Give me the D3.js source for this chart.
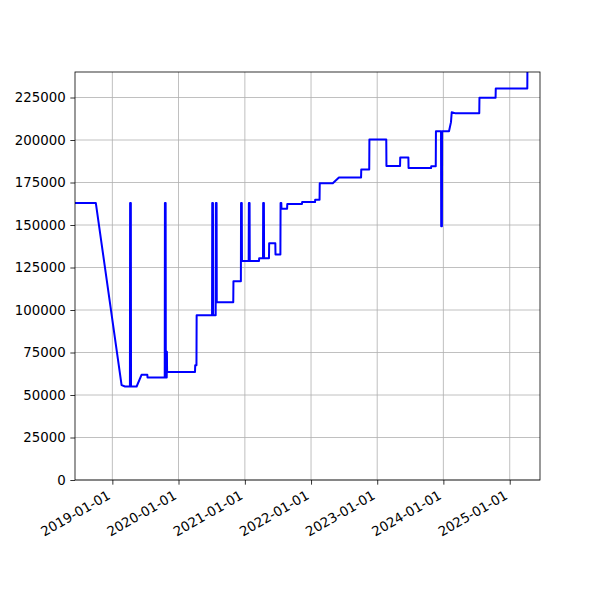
<!DOCTYPE html>
<html>
<head>
<meta charset="utf-8">
<script src="https://cdn.jsdelivr.net/npm/d3@7"></script>
<style>
  html, body { margin: 0; padding: 0; background: #ffffff; }
  svg { display: block; }
  text { font-family: "DejaVu Sans", sans-serif; }
</style>
</head>
<body>
<svg id="chart" width="600" height="600"></svg>
<script>
// ---- data ----
const dates = [
  "2018-06-09","2018-10-02","2019-02-21","2019-03-12","2019-04-08","2019-04-09","2019-04-13","2019-04-14",
  "2019-05-15","2019-06-11","2019-07-13","2019-07-14","2019-10-17","2019-10-18","2019-10-22","2019-10-23",
  "2019-10-28","2019-10-29","2019-10-30","2020-04-01","2020-04-02","2020-04-09","2020-04-10",
  "2020-07-04","2020-07-05","2020-07-09","2020-07-10","2020-07-24","2020-07-25","2020-07-29","2020-07-30",
  "2020-10-29","2020-10-30","2020-12-10","2020-12-11","2020-12-15","2020-12-16",
  "2021-01-22","2021-01-23","2021-01-27","2021-01-28",
  "2021-03-20","2021-03-21","2021-04-11","2021-04-12","2021-04-16","2021-04-17","2021-05-14","2021-05-15",
  "2021-06-18","2021-06-19","2021-07-16","2021-07-17","2021-07-21","2021-07-22","2021-08-22","2021-08-23",
  "2021-11-12","2021-11-13","2022-01-23","2022-01-24","2022-02-17","2022-02-18","2022-05-01",
  "2022-06-04","2022-10-04","2022-10-05","2022-11-18","2022-11-19","2023-02-20","2023-02-21",
  "2023-05-07","2023-05-08","2023-06-22","2023-06-23","2023-10-25","2023-10-26","2023-11-20",
  "2023-11-21","2023-12-19","2023-12-20","2023-12-24","2023-12-25","2024-02-01","2024-02-12","2024-02-16",
  "2024-03-05","2024-07-17","2024-07-18","2024-10-15","2024-10-16","2025-04-08","2025-04-09"
];
const values = [
  162900,162900,55800,55000,55000,162900,162900,55000,
  55000,61900,61900,60300,60300,162900,162900,60300,
  60300,75400,63600,63600,67500,67500,96900,
  96900,162900,162900,96900,96900,162900,162900,104500,
  104500,116900,116900,162900,162900,128800,
  128800,162900,162900,128800,
  128800,130500,130500,162900,162900,130500,130500,139200,
  139200,132700,132700,162900,162900,159600,159600,162400,
  162400,163500,163500,164900,164900,174600,174600,
  178000,178000,182700,182700,200300,200300,184700,
  184700,189700,189700,183500,183500,184500,184500,
  205200,205200,149200,149200,205200,205200,210500,216300,
  215800,215800,224800,224800,230300,230300,250000
];
const xDomain = ["2018-06-09", "2025-06-17"];
const yDomain = [0, 240000];
const yTicks = [0, 25000, 50000, 75000, 100000, 125000, 150000, 175000, 200000, 225000];
const xTickLabels = ["2019-01-01","2020-01-01","2021-01-01","2022-01-01","2023-01-01","2024-01-01","2025-01-01"];

// ---- layout ----
const parse = d3.utcParse("%Y-%m-%d");
const L = 75, R = 540, T = 72, B = 480;
const svg = d3.select("#chart");
const x = d3.scaleUtc().domain(xDomain.map(parse)).range([L, R]);
const y = d3.scaleLinear().domain(yDomain).range([B, T]);
const data = dates.map((d, i) => ({ date: parse(d), value: values[i] }));
const xTicks = xTickLabels.map(parse);

svg.append("rect").attr("width", 600).attr("height", 600).attr("fill", "#fff");

// grid
const grid = svg.append("g");
grid.selectAll("line.gx").data(xTicks).join("line")
  .attr("x1", d => x(d)).attr("x2", d => x(d)).attr("y1", T).attr("y2", B)
  .attr("stroke", "#b0b0b0").attr("stroke-width", 0.8);
grid.selectAll("line.gy").data(yTicks).join("line")
  .attr("x1", L).attr("x2", R).attr("y1", d => y(d)).attr("y2", d => y(d))
  .attr("stroke", "#b0b0b0").attr("stroke-width", 0.8);

// clip & line
svg.append("clipPath").attr("id", "clip").append("rect")
  .attr("x", L).attr("y", T).attr("width", R - L).attr("height", B - T);
const line = d3.line().x(d => x(d.date)).y(d => y(d.value));
svg.append("path").datum(data)
  .attr("clip-path", "url(#clip)")
  .attr("d", line)
  .attr("fill", "none").attr("stroke", "#0000ff").attr("stroke-width", 2)
  .attr("stroke-linejoin", "round").attr("stroke-linecap", "butt");

// axes
const fmt = d3.utcFormat("%Y-%m-%d");
const xAxis = d3.axisBottom(x).tickValues(xTicks).tickFormat(fmt).tickSize(4.67).tickPadding(4.67);
const gx = svg.append("g").attr("transform", `translate(0,${B})`).call(xAxis);
gx.select(".domain").remove();
gx.selectAll(".tick line").attr("stroke", "#000").attr("stroke-width", 0.8);
gx.selectAll(".tick text")
  .attr("font-size", 13.33).attr("fill", "#000")
  .attr("text-anchor", "end")
  .attr("y", 0).attr("dy", 0)
  .attr("transform", "translate(-1.5,18.1) rotate(-30)");

const yAxis = d3.axisLeft(y).tickValues(yTicks).tickFormat(d3.format("d")).tickSize(4.67).tickPadding(4.67);
const gy = svg.append("g").attr("transform", `translate(${L},0)`).call(yAxis);
gy.select(".domain").remove();
gy.selectAll(".tick line").attr("stroke", "#000").attr("stroke-width", 0.8);
gy.selectAll(".tick text").attr("font-size", 13.33).attr("fill", "#000");

// spines
svg.append("rect").attr("x", L).attr("y", T).attr("width", R - L).attr("height", B - T)
  .attr("fill", "none").attr("stroke", "#000").attr("stroke-width", 0.8);
</script>
</body>
</html>
